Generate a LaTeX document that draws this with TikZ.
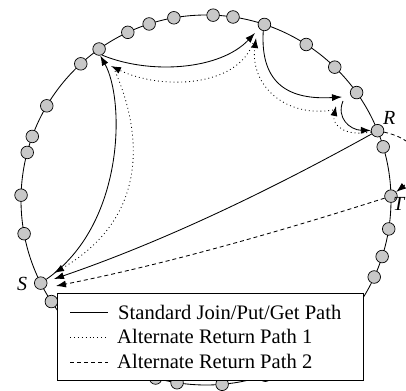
\documentclass[tikz,border=0pt]{standalone}
\usepackage{fontspec}
\setmainfont{Liberation Serif}
\usetikzlibrary{arrows.meta}
\definecolor{dotgray}{RGB}{200,200,200}
\begin{document}
\begin{tikzpicture}[x=1pt,y=-1pt,
  ringnode/.style={circle,draw=black,fill=dotgray,line width=0.7pt,minimum size=12.6pt,inner sep=0pt},
  tipstyle/.style={-{Latex[length=10pt,width=7pt]}},
  stdpath/.style={line width=0.85pt,tipstyle},
  altonepath/.style={line width=0.85pt,dash pattern=on 0.9pt off 3pt,tipstyle},
  alttwopath/.style={line width=0.85pt,dash pattern=on 4pt off 3pt,tipstyle},
  lab/.style={font=\fontsize{20}{24}\selectfont\itshape,inner sep=0pt,anchor=base west},
  legtext/.style={font=\fontsize{20.6}{24}\selectfont,anchor=base west,inner sep=0pt},
  legline/.style={line width=0.85pt}]
\useasboundingbox (0,0) rectangle (406,390);
\clip (0,0) rectangle (406,390);
\coordinate (O) at (206,200);
\draw[line width=0.85pt] (O) circle[radius=185];
\foreach \ang/\nm in {125.3/A,132.6/n2,149.4/n3,159.9/n4,165.1/n5,178.5/n6,190.5/n7,206.7/S,213.3/n9,
  115/n10,107.9/n11,100/n12,87.8/n13,81.6/n14,71.6/B,57.2/n16,45.9/n17,35.5/n18,22/R,16.7/n20,
  1.2/T,351/n22,342.2/n23,335.4/n24,254.2/n25,261/n26,275/n27,288.7/n28}
  \node[ringnode] (\nm) at ([shift={({-\ang}:185)}]O) {};
% labels
\node[lab] (Rl) at (383,125) {R};
\node[lab] (Sl) at (17,290) {S};
\node[lab] (Tl) at (393,210) {T};
% free ends
\coordinate (cIn) at (342,97);
\coordinate (cOut) at (343,101);
\coordinate (ctIn) at (336,106);
\coordinate (ctOut) at (333,110);
\coordinate (aIn) at (111,66);
\coordinate (aOut) at (115,71);
\coordinate (bIn) at (255,33);
\coordinate (btIn) at (256,38);
\coordinate (btOut) at (253,43);
\coordinate (sInA) at (54,273);
\coordinate (sInB) at (54,279);
\coordinate (sInC) at (56,286);
% standard path
\draw[stdpath] (S) .. controls (125,225) and (125,100) .. (A.-80);
\draw[stdpath] (A.-65) .. controls (150,75) and (220,70) .. (bIn);
\draw[stdpath] (B.-100) .. controls (260,85) and (290,100) .. (cIn);
\draw[stdpath] (cOut) .. controls (336,118) and (350,130) .. (R);
\draw[stdpath] (R) .. controls (267,192) and (162,242) .. (sInB);
% alternate return path 1
\draw[altonepath] (R) .. controls (345,137) and (332,125) .. (ctIn);
\draw[altonepath] (ctOut) .. controls (285,118) and (250,85) .. (btIn);
\draw[altonepath] (btOut) .. controls (237,88) and (160,90) .. (aIn);
\draw[altonepath] (aOut) .. controls (145,140) and (145,220) .. (sInA);
% alternate return path 2
\draw[alttwopath] (R) .. controls (420,140) and (430,165) .. (T);
\draw[alttwopath] (T) .. controls (275,233) and (166,264) .. (sInC);
% legend
\node[draw,fill=white,line width=0.85pt,minimum width=306pt,minimum height=87pt,anchor=north west,inner sep=0pt] (leg) at (57,293) {};
\coordinate (lAa) at (70,312); \coordinate (lAb) at (108,312);
\coordinate (lBa) at (70,337); \coordinate (lBb) at (108,337);
\coordinate (lCa) at (70,362); \coordinate (lCb) at (108,362);
\draw[legline] (lAa) -- (lAb);
\draw[legline,dash pattern=on 0.9pt off 3pt] (lBa) -- (lBb);
\draw[legline,dash pattern=on 4pt off 3pt] (lCa) -- (lCb);
\node[legtext] (tA) at (118,319) {Standard Join/Put/Get Path};
\node[legtext] (tB) at (117,343.5) {Alternate Return Path 1};
\node[legtext] (tC) at (117,368) {Alternate Return Path 2};
\end{tikzpicture}
\end{document}
